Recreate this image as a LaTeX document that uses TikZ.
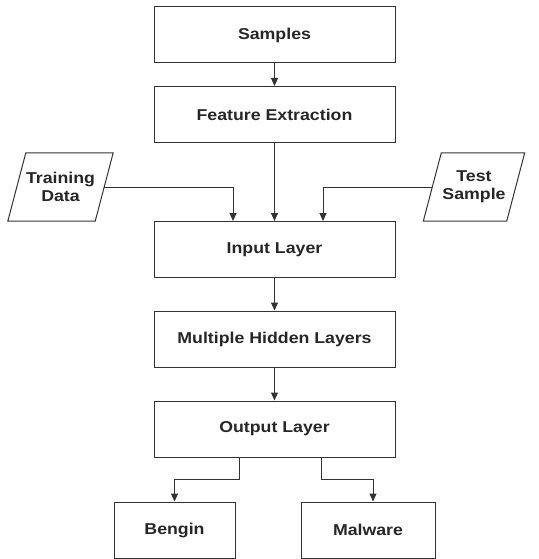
\documentclass[tikz,border=0pt]{standalone}
\usepackage{fontspec}
\setmainfont{Liberation Sans}[FakeStretch=1.13]
\usetikzlibrary{arrows.meta}

\tikzset{
  box/.style={draw=black!80, line width=1pt, rectangle, minimum width=241pt, minimum height=56pt, text=black!85, font=\fontsize{15.7}{18}\selectfont\bfseries},
  para/.style={rectangle, minimum width=85pt, minimum height=68pt, inner sep=0pt, align=center, text=black!85, font=\fontsize{15.7}{18}\selectfont\bfseries},
  paraline/.style={draw=black!80, line width=1pt, line join=miter},
  arr/.style={draw=black!80, line width=1pt, -{Triangle[length=8pt,width=7pt]}},
}

\begin{document}
\begin{tikzpicture}[x=1pt, y=-1pt]
          \useasboundingbox (0,0) rectangle (538,559);
          \node[box] (samples) at (274.5, 35) {Samples};
          \node[box] (feature) at (274.5, 114.5) {Feature Extraction};
          \node[box] (input) at (274.5, 249.5) {Input Layer};
          \node[box] (hidden) at (274.5, 339) {Multiple Hidden Layers};
          \node[box] (output) at (274.5, 429) {Output Layer};
          \node[box, minimum width=121pt] (bengin) at (174.5, 530) {Bengin};
          \node[box, minimum width=134pt] (malware) at (368, 530) {Malware};
          %
          \node[para, minimum width=87pt] (train) at (60.5, 187) {Training\\Data};
          \node[para, minimum width=83pt] (test) at (474, 187) {Test\\Sample};
          \draw[paraline] ([xshift=-9pt]train.south west) -- ([xshift=-9pt]train.south east)
            -- ([xshift=9pt]train.north east) -- ([xshift=9pt]train.north west) -- cycle;
          \draw[paraline] ([xshift=-9pt]test.south west) -- ([xshift=-9pt]test.south east)
            -- ([xshift=9pt]test.north east) -- ([xshift=9pt]test.north west) -- cycle;
          %
          \draw[arr] (samples) -- (feature);
          \draw[arr] (feature) -- (input);
          \draw[arr] (train.east) -| ([xshift=-41.5pt]input.north);
          \draw[arr] (test.west) -| ([xshift=48.5pt]input.north);
          \draw[arr] (input) -- (hidden);
          \draw[arr] (hidden) -- (output);
          \draw[arr] ([xshift=-35.5pt]output.south) -- ++(0,22) -| (bengin.north);
          \draw[arr] ([xshift=46.5pt]output.south) -- ++(0,22) -| ([xshift=5pt]malware.north);
        \end{tikzpicture}
\end{document}
